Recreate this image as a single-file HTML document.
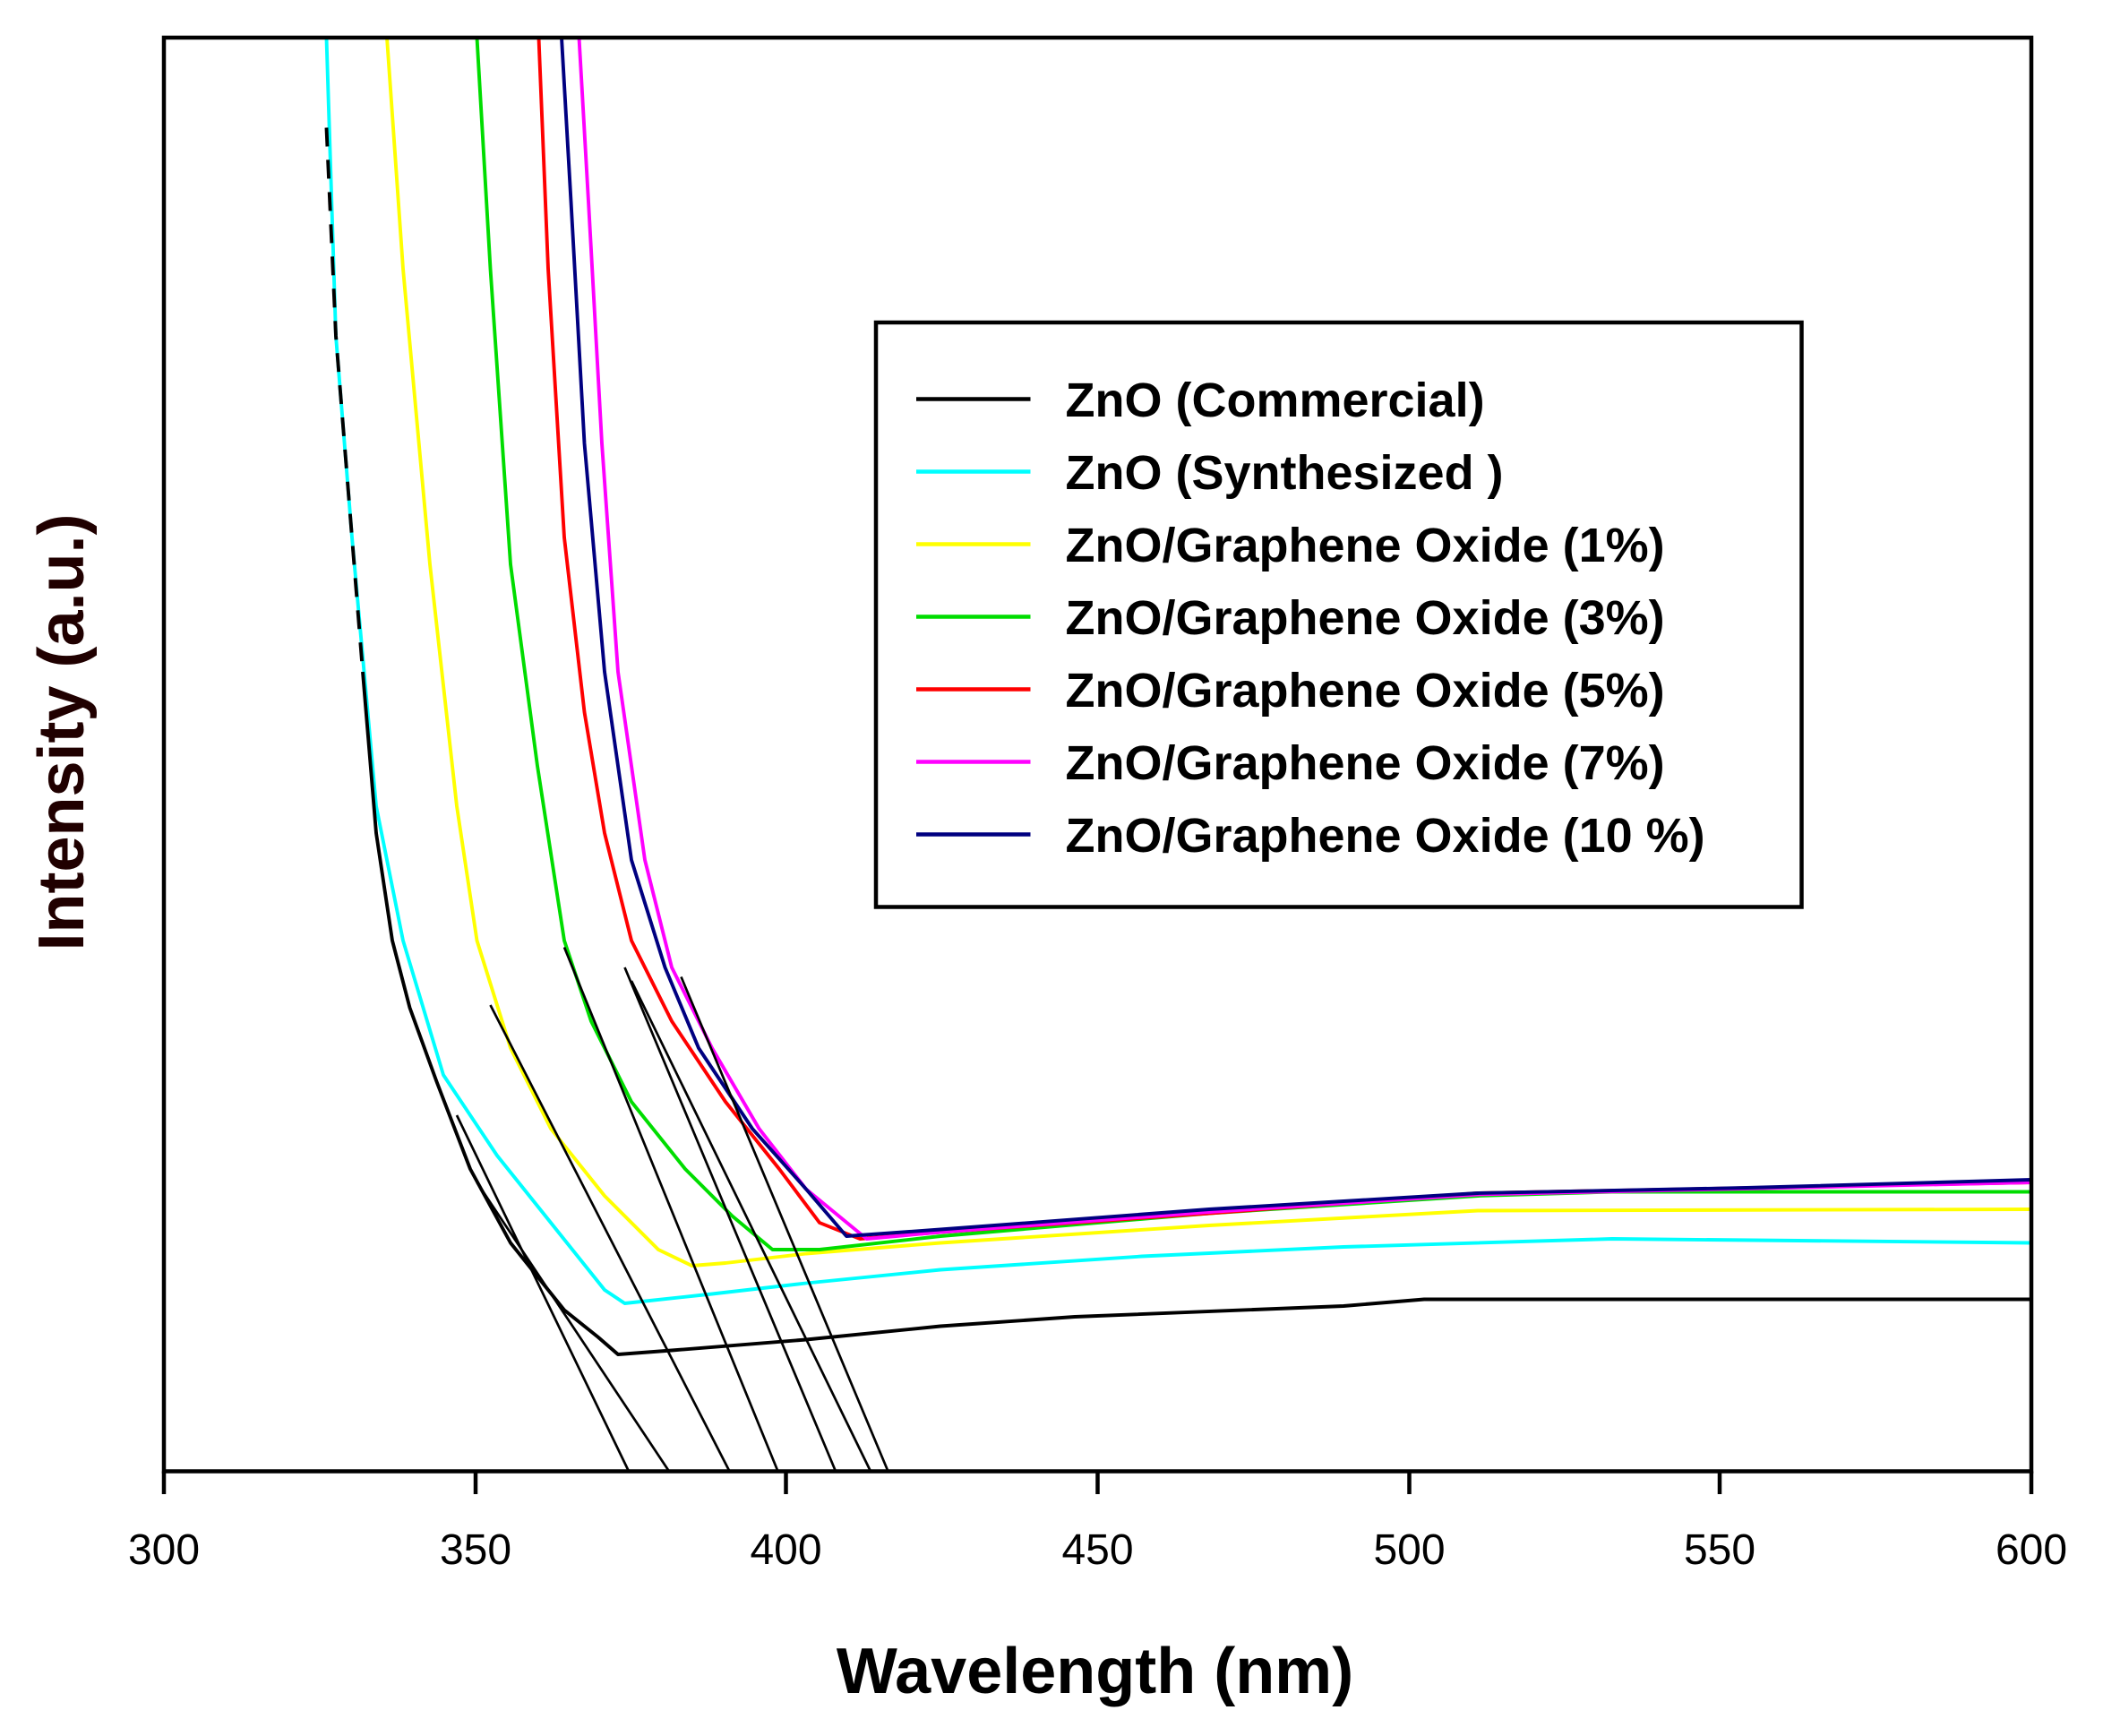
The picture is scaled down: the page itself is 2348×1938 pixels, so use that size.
<!DOCTYPE html>
<html><head><meta charset="utf-8"><style>html,body{margin:0;padding:0;background:#fff}svg{display:block}</style></head>
<body>
<svg width="2348" height="1938" viewBox="0 0 1565.33 1292" xmlns="http://www.w3.org/2000/svg" font-family="Liberation Sans, sans-serif">
<rect width="1565.33" height="1292" fill="#fff"/>
<g fill="none" stroke-width="2.6" stroke-linejoin="round">
<polyline stroke="#00ffff" points="243,28 250,250 262,400 280,600 300,700 330,800 370,860 410,910 450,960 465,970 530,963 600,955 700,945 850,935 1000,928 1200,922 1512,925"/>
<polyline stroke="#000" stroke-dasharray="14,10" points="243,95 250,250 262,400 270,500"/>
<polyline stroke="#000" points="270,500 280,620 292,700 305,750 325,805 350,870 380,925 420,975 445,995 460,1008 500,1005 600,997 700,987 800,980 1000,972 1060,967 1512,967"/>
<polyline stroke="#ffff00" points="288,28 300,200 320,420 340,600 355,700 380,780 410,840 450,890 490,930 515,942 540,940 600,933 700,925 900,912 1100,901 1512,900"/>
<polyline stroke="#00dd00" points="355,28 365,200 380,420 400,570 420,700 440,760 470,820 510,870 545,905 575,930 610,930 700,920 900,903 1100,890 1200,887 1512,887"/>
<polyline stroke="#ff0000" points="401,28 408,200 420,400 435,530 450,620 470,700 500,760 540,820 580,870 610,910 640,922 700,917 900,903 1100,888 1512,880"/>
<polyline stroke="#ff00ff" points="431,28 438,150 448,330 460,500 480,640 500,720 530,780 565,840 600,885 645,922 700,917 900,902 1100,889 1512,880"/>
<polyline stroke="#000080" points="418,28 425,150 435,330 450,500 470,640 495,720 520,780 560,840 600,885 630,920 700,915 900,900 1100,888 1300,884 1512,878"/>
</g>
<g stroke="#000" stroke-width="1.8">
<line x1="340" y1="830" x2="468" y2="1095"/>
<line x1="355" y1="880" x2="498" y2="1095"/>
<line x1="365" y1="748" x2="543" y2="1095"/>
<line x1="420" y1="705" x2="579" y2="1095"/>
<line x1="465" y1="720" x2="622" y2="1095"/>
<line x1="470" y1="730" x2="648" y2="1095"/>
<line x1="507" y1="727" x2="661" y2="1095"/>
</g>
<rect x="122" y="28" width="1390" height="1067" fill="none" stroke="#000" stroke-width="3"/>
<g stroke="#000" stroke-width="3">
<line x1="122" y1="1095" x2="122" y2="1112"/><line x1="354" y1="1095" x2="354" y2="1112"/><line x1="585" y1="1095" x2="585" y2="1112"/><line x1="817" y1="1095" x2="817" y2="1112"/><line x1="1049" y1="1095" x2="1049" y2="1112"/><line x1="1280" y1="1095" x2="1280" y2="1112"/><line x1="1512" y1="1095" x2="1512" y2="1112"/>
</g>
<g font-size="32" text-anchor="middle" fill="#000">
<text x="122" y="1164">300</text><text x="354" y="1164">350</text><text x="585" y="1164">400</text><text x="817" y="1164">450</text><text x="1049" y="1164">500</text><text x="1280" y="1164">550</text><text x="1512" y="1164">600</text>
</g>
<text x="815" y="1260" font-size="48" font-weight="bold" text-anchor="middle" fill="#000">Wavelength (nm)</text>
<text transform="translate(62,545) rotate(-90)" font-size="48" font-weight="bold" text-anchor="middle" fill="#200000">Intensity (a.u.)</text>
<rect x="652" y="240" width="689" height="435" fill="#fff" stroke="#000" stroke-width="3"/>
<g stroke-width="3">
<line x1="682" x2="767" y1="297" y2="297" stroke="#000"/>
<line x1="682" x2="767" y1="351" y2="351" stroke="#00ffff"/>
<line x1="682" x2="767" y1="405" y2="405" stroke="#ffff00"/>
<line x1="682" x2="767" y1="459" y2="459" stroke="#00dd00"/>
<line x1="682" x2="767" y1="513" y2="513" stroke="#ff0000"/>
<line x1="682" x2="767" y1="567" y2="567" stroke="#ff00ff"/>
<line x1="682" x2="767" y1="621" y2="621" stroke="#000080"/>
</g>
<g font-size="36" fill="#000" font-weight="bold">
<text x="793" y="310">ZnO (Commercial)</text>
<text x="793" y="364">ZnO (Synthesized )</text>
<text x="793" y="418">ZnO/Graphene Oxide (1%)</text>
<text x="793" y="472">ZnO/Graphene Oxide (3%)</text>
<text x="793" y="526">ZnO/Graphene Oxide (5%)</text>
<text x="793" y="580">ZnO/Graphene Oxide (7%)</text>
<text x="793" y="634">ZnO/Graphene Oxide (10 %)</text>
</g>
</svg>
</body></html>
